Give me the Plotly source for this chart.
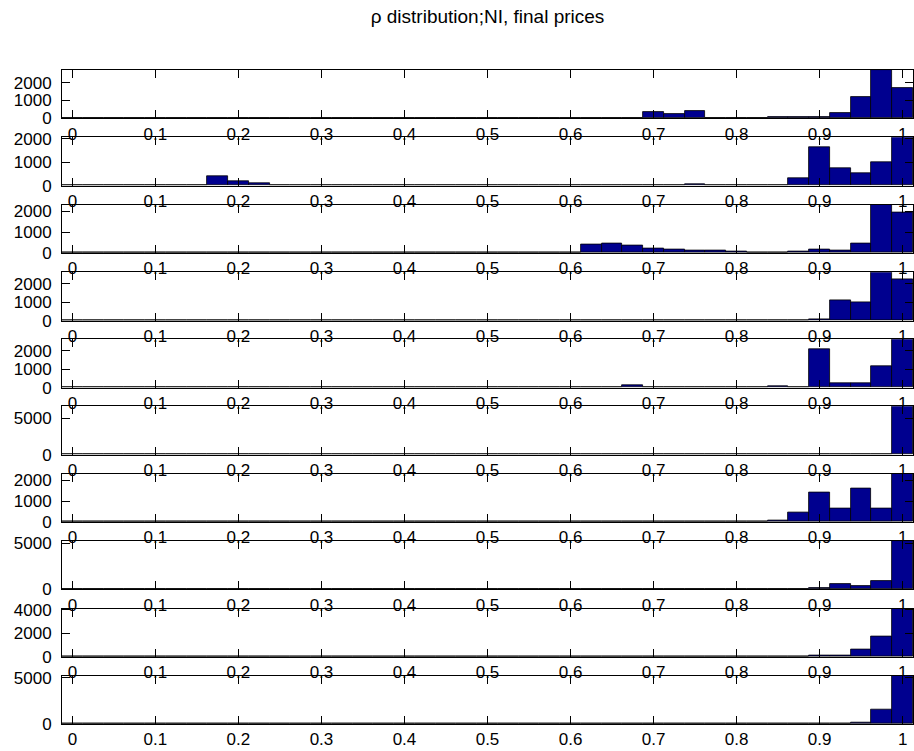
import plotly.graph_objects as go

# ---- data ----
bin_centers = [0.0, 0.025, 0.05, 0.075, 0.1, 0.125, 0.15, 0.175, 0.2, 0.225,
               0.25, 0.275, 0.3, 0.325, 0.35, 0.375, 0.4, 0.425, 0.45, 0.475,
               0.5, 0.525, 0.55, 0.575, 0.6, 0.625, 0.65, 0.675, 0.7, 0.725,
               0.75, 0.775, 0.8, 0.825, 0.85, 0.875, 0.9, 0.925, 0.95, 0.975, 1.0]

# counts per panel, listed as {bin index: count} for the non-empty bins
panel1 = {25: 15, 28: 355, 29: 260, 30: 390, 32: 10, 33: 10, 34: 80, 35: 80,
          36: 80, 37: 315, 38: 1170, 39: 2705, 40: 1690}
panel2 = {6: 20, 7: 383, 8: 170, 9: 100, 10: 10, 11: 10, 29: 10, 30: 50,
          34: 10, 35: 330, 36: 1645, 37: 750, 38: 530, 39: 1010, 40: 2070}
panel3 = {23: 20, 24: 20, 25: 405, 26: 450, 27: 370, 28: 210, 29: 175, 30: 130,
          31: 130, 32: 60, 33: 20, 34: 30, 35: 70, 36: 160, 37: 100, 38: 450,
          39: 2340, 40: 1930}
panel4 = {36: 100, 37: 1130, 38: 1000, 39: 2620, 40: 2220}
panel5 = {21: 20, 22: 30, 23: 10, 24: 10, 25: 40, 26: 10, 27: 120, 28: 30,
          30: 40, 32: 10, 33: 10, 34: 100, 35: 30, 36: 2090, 37: 240, 38: 220,
          39: 1170, 40: 2620}
panel6 = {33: 10, 35: 60, 39: 50, 40: 6700}
panel7 = {27: 10, 28: 10, 30: 20, 33: 10, 34: 50, 35: 450, 36: 1395, 37: 625,
          38: 1620, 39: 640, 40: 2330}
panel8 = {35: 30, 36: 150, 37: 540, 38: 325, 39: 940, 40: 5250}
panel9 = {36: 100, 37: 120, 38: 660, 39: 1770, 40: 4120}
panel10 = {37: 30, 38: 100, 39: 1600, 40: 5215}

panels = [panel1, panel2, panel3, panel4, panel5, panel6, panel7, panel8, panel9, panel10]

y_ticks = [[0, 1000, 2000], [0, 1000, 2000], [0, 1000, 2000], [0, 1000, 2000],
           [0, 1000, 2000], [0, 5000], [0, 1000, 2000], [0, 5000],
           [0, 2000, 4000], [0, 5000]]

x_ticks = [0, 0.1, 0.2, 0.3, 0.4, 0.5, 0.6, 0.7, 0.8, 0.9, 1.0]
x_tick_labels = ["0", "0.1", "0.2", "0.3", "0.4", "0.5", "0.6", "0.7", "0.8", "0.9", "1"]

title_text = "ρ distribution;NI, final prices"

# ---- layout geometry (pixels) ----
W, H = 914, 751
mt, mb, ml, mr = 70, 27, 62, 1
plot_h = H - mt - mb
panel_tops = [70, 137.2, 204.5, 272.3, 339.2, 406.2, 473.5, 541, 608.5, 675.6]
panel_h = 48.4

font_family = "Liberation Sans, Arial, Helvetica, sans-serif"


def clamp(v):
    return min(1.0, max(0.0, v))


fig = go.Figure()
layout = {}
for i, counts in enumerate(panels):
    ys = [counts.get(k, 0) for k in range(len(bin_centers))]
    xa = "x" if i == 0 else f"x{i+1}"
    ya = "y" if i == 0 else f"y{i+1}"
    fig.add_trace(go.Bar(
        x=bin_centers, y=ys, width=0.025,
        marker=dict(color="#00008F", line=dict(color="black", width=0.8)),
        xaxis=xa, yaxis=ya, showlegend=False, hoverinfo="x+y",
    ))
    top = panel_tops[i]
    bot = top + panel_h
    dom = [clamp((H - mb - bot) / plot_h), clamp((H - mb - top) / plot_h)]
    ymax = max(ys)
    xkey = "xaxis" if i == 0 else f"xaxis{i+1}"
    ykey = "yaxis" if i == 0 else f"yaxis{i+1}"
    layout[xkey] = dict(
        domain=[0, 1], anchor=ya, range=[-0.0125, 1.0125],
        tickmode="array", tickvals=x_ticks, ticktext=x_tick_labels,
        ticks="inside", ticklen=8, tickwidth=1, tickcolor="black",
        showline=True, linecolor="black", linewidth=1, mirror="ticks",
        showgrid=False, zeroline=False,
        tickfont=dict(family=font_family, size=17, color="black"),
        automargin=False,
        fixedrange=True,
    )
    layout[ykey] = dict(
        domain=dom, anchor=xa, range=[0, ymax],
        tickmode="array", tickvals=y_ticks[i],
        ticktext=[str(v) for v in y_ticks[i]],
        ticks="inside", ticklen=8, tickwidth=1, tickcolor="black",
        showline=True, linecolor="black", linewidth=1, mirror="ticks",
        showgrid=False, zeroline=False,
        tickfont=dict(family=font_family, size=17, color="black"),
        ticklabelstandoff=6,
        automargin=False,
        fixedrange=True,
    )

fig.update_layout(
    width=W, height=H,
    margin=dict(t=mt, b=mb, l=ml, r=mr, pad=0, autoexpand=False),
    paper_bgcolor="white", plot_bgcolor="white",
    bargap=0,
    title=dict(text=title_text, x=0.5, xref="paper", xanchor="center",
               y=1 - 16 / H, yref="container", yanchor="middle",
               font=dict(family=font_family, size=19, color="black")),
    **layout,
)

fig.write_html(
    "out.html",
    config={"displayModeBar": False},
    post_script="document.body.style.margin='0';document.body.style.overflow='hidden';",
)
